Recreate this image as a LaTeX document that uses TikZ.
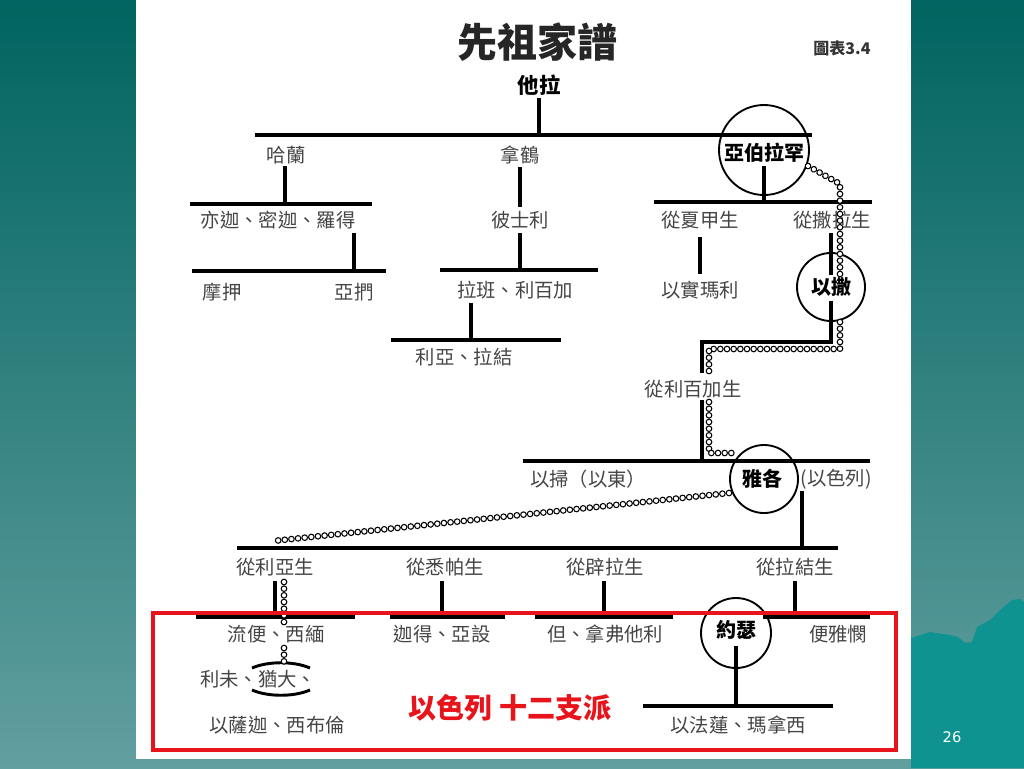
\documentclass[tikz,border=0pt]{standalone}
\usepackage{fontspec}
\newfontfamily\cjk{Noto Sans CJK TC}
\newfontfamily\numfont{DejaVu Sans}
\usetikzlibrary{decorations.markings}
\definecolor{bgtop}{HTML}{00645F}
\definecolor{bgbot}{HTML}{629FA0}
\definecolor{mtn}{HTML}{0F9391}
\definecolor{txtgray}{HTML}{454545}
\definecolor{boxred}{HTML}{E8141B}
\tikzset{
  lbl/.style={font=\cjk\fontsize{14.5}{16}\selectfont, text=txtgray, inner sep=1pt},
  blbl/.style={font=\cjk\bfseries\fontsize{15}{17}\selectfont, text=black, inner sep=1pt},
  stem/.style={line width=3.2pt, black},
  bar/.style={line width=3.2pt, black},
  ring/.style={draw, circle, line width=1.4pt, black},
  chainline/.style={decoration={markings,
      mark=between positions 0 and 1 step 5pt with {\draw[line width=0.8pt, fill=white] (0,0) circle (2.1pt);}},
      decorate}
}
\begin{document}
\begin{tikzpicture}[x=0.75pt,y=-0.75pt]
\useasboundingbox (0,0) rectangle (1024,768);
% background
\shade[top color=bgtop, bottom color=bgbot] (0,0) rectangle (1024,768);
\fill[mtn] (911,638) -- (930,632) -- (950,635) -- (958,637) -- (965,643) -- (972,642)
  -- (977,627) -- (990,620) -- (1000,610) -- (1012,600) -- (1020,599) -- (1024,602)
  -- (1024,768) -- (911,768) -- cycle;
\fill[white] (136,0) rectangle (911,759);
\node[text=white, font=\numfont\fontsize{11}{13}\selectfont] (pnum) at (952,737) {26};

% titles
\node[font=\cjk\bfseries\fontsize{30}{34}\selectfont, text=black!85] (title) at (537,42) {先祖家譜};
\node[font=\cjk\bfseries\fontsize{12}{14}\selectfont, text=black!80] (fig) at (842,48) {圖表3.4};

% generation 1
\node[font=\cjk\bfseries\fontsize{16}{18}\selectfont] (tera) at (539,85) {他拉};
\draw[stem] (539,98) -- (539,135);
\draw[bar] (255,135) -- (812,135);

% generation 2
\node[lbl] (haran) at (286,155) {哈蘭};
\node[lbl] (nahor) at (520,155) {拿鶴};
\node[ring, minimum size=67.5pt, inner sep=0pt] (abrc) at (764,150) {};
\node[blbl] (abr) at (764,153) {亞伯拉罕};

\draw[stem] (285,166) -- (285,204);
\draw[bar] (190,204) -- (372,204);
\draw[stem] (520,167) -- (520,207);
\draw[stem] (764,166) -- (764,202);
\draw[bar] (654,202) -- (872,202);

% generation 3
\node[lbl] (lot) at (278,220) {亦迦、密迦、羅得};
\node[lbl] (bethuel) at (520,220) {彼士利};
\node[lbl] (hagar) at (700,220) {從夏甲生};
\node[lbl] (sarah) at (832,220) {從撒拉生};

\draw[stem] (354,233) -- (354,271);
\draw[bar] (192,271) -- (386,271);
\draw[stem] (520,233) -- (520,270);
\draw[bar] (440,270) -- (598,270);
\draw[stem] (700,237) -- (700,274);
\draw[stem] (831,233) -- (831,275);

% generation 4
\node[lbl] (moab) at (222,292) {摩押};
\node[lbl] (ammon) at (354,292) {亞捫};
\node[lbl] (laban) at (515,290) {拉班、利百加};
\node[lbl] (ishmael) at (700,290) {以實瑪利};
\node[ring, minimum size=51pt, inner sep=0pt] (isaacc) at (831,287) {};
\node[blbl] (isaac) at (831,287) {以撒};

\draw[stem] (471,303) -- (471,340);
\draw[bar] (391,340) -- (561,340);
\node[lbl] (leahrachel) at (464,357) {利亞、拉結};

\draw[stem] (831,301) -- (831,342) -- (702,342) -- (702,373);
\node[lbl] (rebekah) at (693,389) {從利百加生};
\draw[stem] (702,400) -- (702,461);
\draw[bar] (523,461) -- (870,461);

% generation 5
\node[lbl] (esau) at (588,479) {以掃（以東）};
\node[ring, minimum size=51pt, inner sep=0pt] (jacobc) at (764,479) {};
\node[blbl] (jacob) at (762,479) {雅各};
\node[lbl] (israel) at (836,479) {(以色列)};
\draw[stem] (802,491) -- (802,548);
\draw[bar] (237,548) -- (838,548);

% generation 6
\node[lbl] (leah) at (275,567) {從利亞生};
\node[lbl] (zilpah) at (445,567) {從悉帕生};
\node[lbl] (bilhah) at (605,567) {從辟拉生};
\node[lbl] (rachel) at (795,567) {從拉結生};

\draw[stem] (275,581) -- (275,617);
\draw[stem] (442,581) -- (442,617);
\draw[stem] (604,581) -- (604,617);
\draw[stem] (795,581) -- (795,617);
\draw[bar] (196,617) -- (355,617);
\draw[bar] (390,617) -- (505,617);
\draw[bar] (535,617) -- (673,617);
\draw[bar] (763,617) -- (870,617);

% generation 7
\node[lbl] (reuben) at (276,634) {流便、西緬};
\node[lbl] (gad) at (442,634) {迦得、亞設};
\node[lbl] (dan) at (605,634) {但、拿弗他利};
\node[ring, minimum size=52.5pt, inner sep=0pt] (josephc) at (736,633) {};
\node[blbl] (joseph) at (736,630) {約瑟};
\node[lbl] (benjamin) at (838,634) {便雅憫};
\node[lbl] (levi) at (258,679) {利未、猶大、};
\node[lbl] (issachar) at (277,725) {以薩迦、西布倫};
\draw[line width=2.2pt] (252,668) .. controls (268,661) and (294,661) .. (310,668);
\draw[line width=2.2pt] (252,690) .. controls (268,697) and (294,697) .. (310,690);

\draw[stem] (736,646) -- (736,706);
\draw[bar] (643,706) -- (833,706);
\node[lbl] (ephraim) at (738,725) {以法蓮、瑪拿西};

% chosen line (chain)
\path[chainline] (808,166) -- (840,184) -- (840,275);
\path[chainline] (840,322) -- (840,349) -- (709,349) -- (709,373);
\path[chainline] (709,402) -- (709,453) -- (735,453);
\path[chainline] (729,493) -- (273,541);
\path[chainline] (284,582) -- (284,622);
\path[chainline] (284,648) -- (284,664);

% red box
\draw[boxred, line width=2.4pt] (153,613) rectangle (896,750);
\node[font=\cjk\bfseries\fontsize{21}{25}\selectfont, text=boxred] (twelve) at (510,708) {以色列 十二支派};
\end{tikzpicture}
\end{document}
